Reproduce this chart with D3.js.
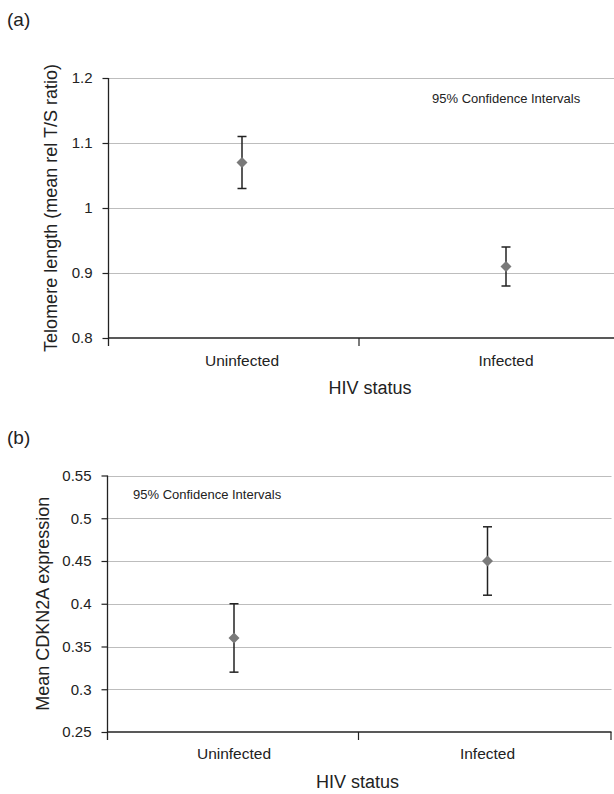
<!DOCTYPE html>
<html>
<head>
<meta charset="utf-8">
<script src="https://cdn.jsdelivr.net/npm/d3@7"></script>
<style>
  html, body { margin: 0; padding: 0; background: #fff; }
  svg { display: block; font-family: "Liberation Sans", Arial, Helvetica, sans-serif; }
</style>
</head>
<body>
<svg id="chart" width="614" height="794"></svg>
<script>
// ---- data ----
const categories = ["Uninfected", "Infected"];

// Panel (a): telomere length
const telomereMean  = [1.07, 0.91];
const telomereLower = [1.03, 0.88];
const telomereUpper = [1.11, 0.94];
const telomereTicks = [0.8, 0.9, 1.0, 1.1, 1.2];
const telomereTickLabels = ["0.8", "0.9", "1", "1.1", "1.2"];

// Panel (b): CDKN2A expression
const cdknMean  = [0.36, 0.45];
const cdknLower = [0.32, 0.41];
const cdknUpper = [0.40, 0.49];
const cdknTicks = [0.25, 0.30, 0.35, 0.40, 0.45, 0.50, 0.55];
const cdknTickLabels = ["0.25", "0.3", "0.35", "0.4", "0.45", "0.5", "0.55"];

// ---- layout ----
const svg = d3.select("#chart");

const panels = [
  {
    letter: "(a)", letterY: 26,
    mean: telomereMean, lower: telomereLower, upper: telomereUpper,
    ticks: telomereTicks, tickLabels: telomereTickLabels,
    domain: [0.8, 1.2], top: 78, bottom: 338,
    left: 108.5, right: 614, mid: 359, endTick: false,
    pointRange: [242, 506],
    yTitle: "Telomere length (mean rel T/S ratio)", yTitleX: 57,
    catY: 366, xTitleY: 394, xTitleX: 370,
    noteX: 432, noteY: 103
  },
  {
    letter: "(b)", letterY: 444,
    mean: cdknMean, lower: cdknLower, upper: cdknUpper,
    ticks: cdknTicks, tickLabels: cdknTickLabels,
    domain: [0.25, 0.55], top: 475.5, bottom: 732,
    left: 107.5, right: 611.5, mid: 358.5, endTick: true,
    pointRange: [234, 487.5],
    yTitle: "Mean CDKN2A expression", yTitleX: 49,
    catY: 759, xTitleY: 788, xTitleX: 357.5,
    noteX: 133, noteY: 499
  }
];

panels.forEach(p => {
  const g = svg.append("g");
  const y = d3.scaleLinear().domain(p.domain).range([p.bottom, p.top]);
  const x = d3.scalePoint().domain(categories).range(p.pointRange);

  // panel letter
  g.append("text").attr("x", 7).attr("y", p.letterY)
    .attr("font-size", 19).attr("fill", "#222").text(p.letter);

  // gridlines
  g.selectAll("line.grid").data(p.ticks.slice(1)).enter().append("line")
    .attr("x1", p.left).attr("x2", p.right)
    .attr("y1", d => Math.round(y(d)) + 0.5).attr("y2", d => Math.round(y(d)) + 0.5)
    .attr("stroke", "#bdbdbd").attr("stroke-width", 1.2);

  // y axis
  const yAxis = d3.axisLeft(y).tickValues(p.ticks)
    .tickFormat((d, i) => p.tickLabels[i]).tickSize(6).tickPadding(10);
  const ya = g.append("g").attr("transform", `translate(${p.left},0)`).call(yAxis);
  ya.select(".domain").attr("stroke", "#222").attr("stroke-width", 1.3)
    .attr("d", `M0,${p.top}V${p.bottom + 8}`);
  ya.selectAll(".tick line").attr("stroke", "#222").attr("stroke-width", 1.2);
  ya.selectAll(".tick text").attr("font-size", 15).attr("fill", "#222")
    .attr("font-family", '"Liberation Sans", Arial, sans-serif');

  // x axis baseline
  g.append("line").attr("x1", p.left).attr("x2", p.right)
    .attr("y1", p.bottom).attr("y2", p.bottom)
    .attr("stroke", "#222").attr("stroke-width", 1.3);
  const divs = [p.mid].concat(p.endTick ? [p.right - 0.5] : []);
  g.selectAll("line.div").data(divs).enter().append("line")
    .attr("x1", d => d).attr("x2", d => d)
    .attr("y1", p.bottom).attr("y2", p.bottom + 8)
    .attr("stroke", "#222").attr("stroke-width", 1.2);

  // category labels
  g.selectAll("text.cat").data(categories).enter().append("text")
    .attr("x", d => x(d)).attr("y", p.catY)
    .attr("text-anchor", "middle").attr("font-size", 15.5).attr("fill", "#222")
    .text(d => d);

  // x title
  g.append("text").attr("x", p.xTitleX).attr("y", p.xTitleY)
    .attr("text-anchor", "middle").attr("font-size", 18).attr("fill", "#222")
    .text("HIV status");

  // y title
  g.append("text")
    .attr("transform", `translate(${p.yTitleX},${(p.top + p.bottom) / 2}) rotate(-90)`)
    .attr("text-anchor", "middle").attr("font-size", 18).attr("fill", "#222")
    .text(p.yTitle);

  // note
  g.append("text").attr("x", p.noteX).attr("y", p.noteY)
    .attr("font-size", 13).attr("fill", "#222").text("95% Confidence Intervals");

  // error bars
  const rows = categories.map((c, i) => ({ c, m: p.mean[i], lo: p.lower[i], hi: p.upper[i] }));
  const eb = g.selectAll("g.eb").data(rows).enter().append("g");
  eb.append("line").attr("x1", d => x(d.c)).attr("x2", d => x(d.c))
    .attr("y1", d => y(d.hi)).attr("y2", d => y(d.lo))
    .attr("stroke", "#222").attr("stroke-width", 1.5);
  [ "hi", "lo" ].forEach(k => {
    eb.append("line").attr("x1", d => x(d.c) - 4.5).attr("x2", d => x(d.c) + 4.5)
      .attr("y1", d => y(d[k])).attr("y2", d => y(d[k]))
      .attr("stroke", "#222").attr("stroke-width", 1.5);
  });
  // diamonds
  eb.append("path")
    .attr("d", d => {
      const cx = x(d.c), cy = y(d.m), r = 5.5;
      return `M${cx},${cy - r}L${cx + r},${cy}L${cx},${cy + r}L${cx - r},${cy}Z`;
    })
    .attr("fill", "#7a7a7a");
});
</script>
</body>
</html>
